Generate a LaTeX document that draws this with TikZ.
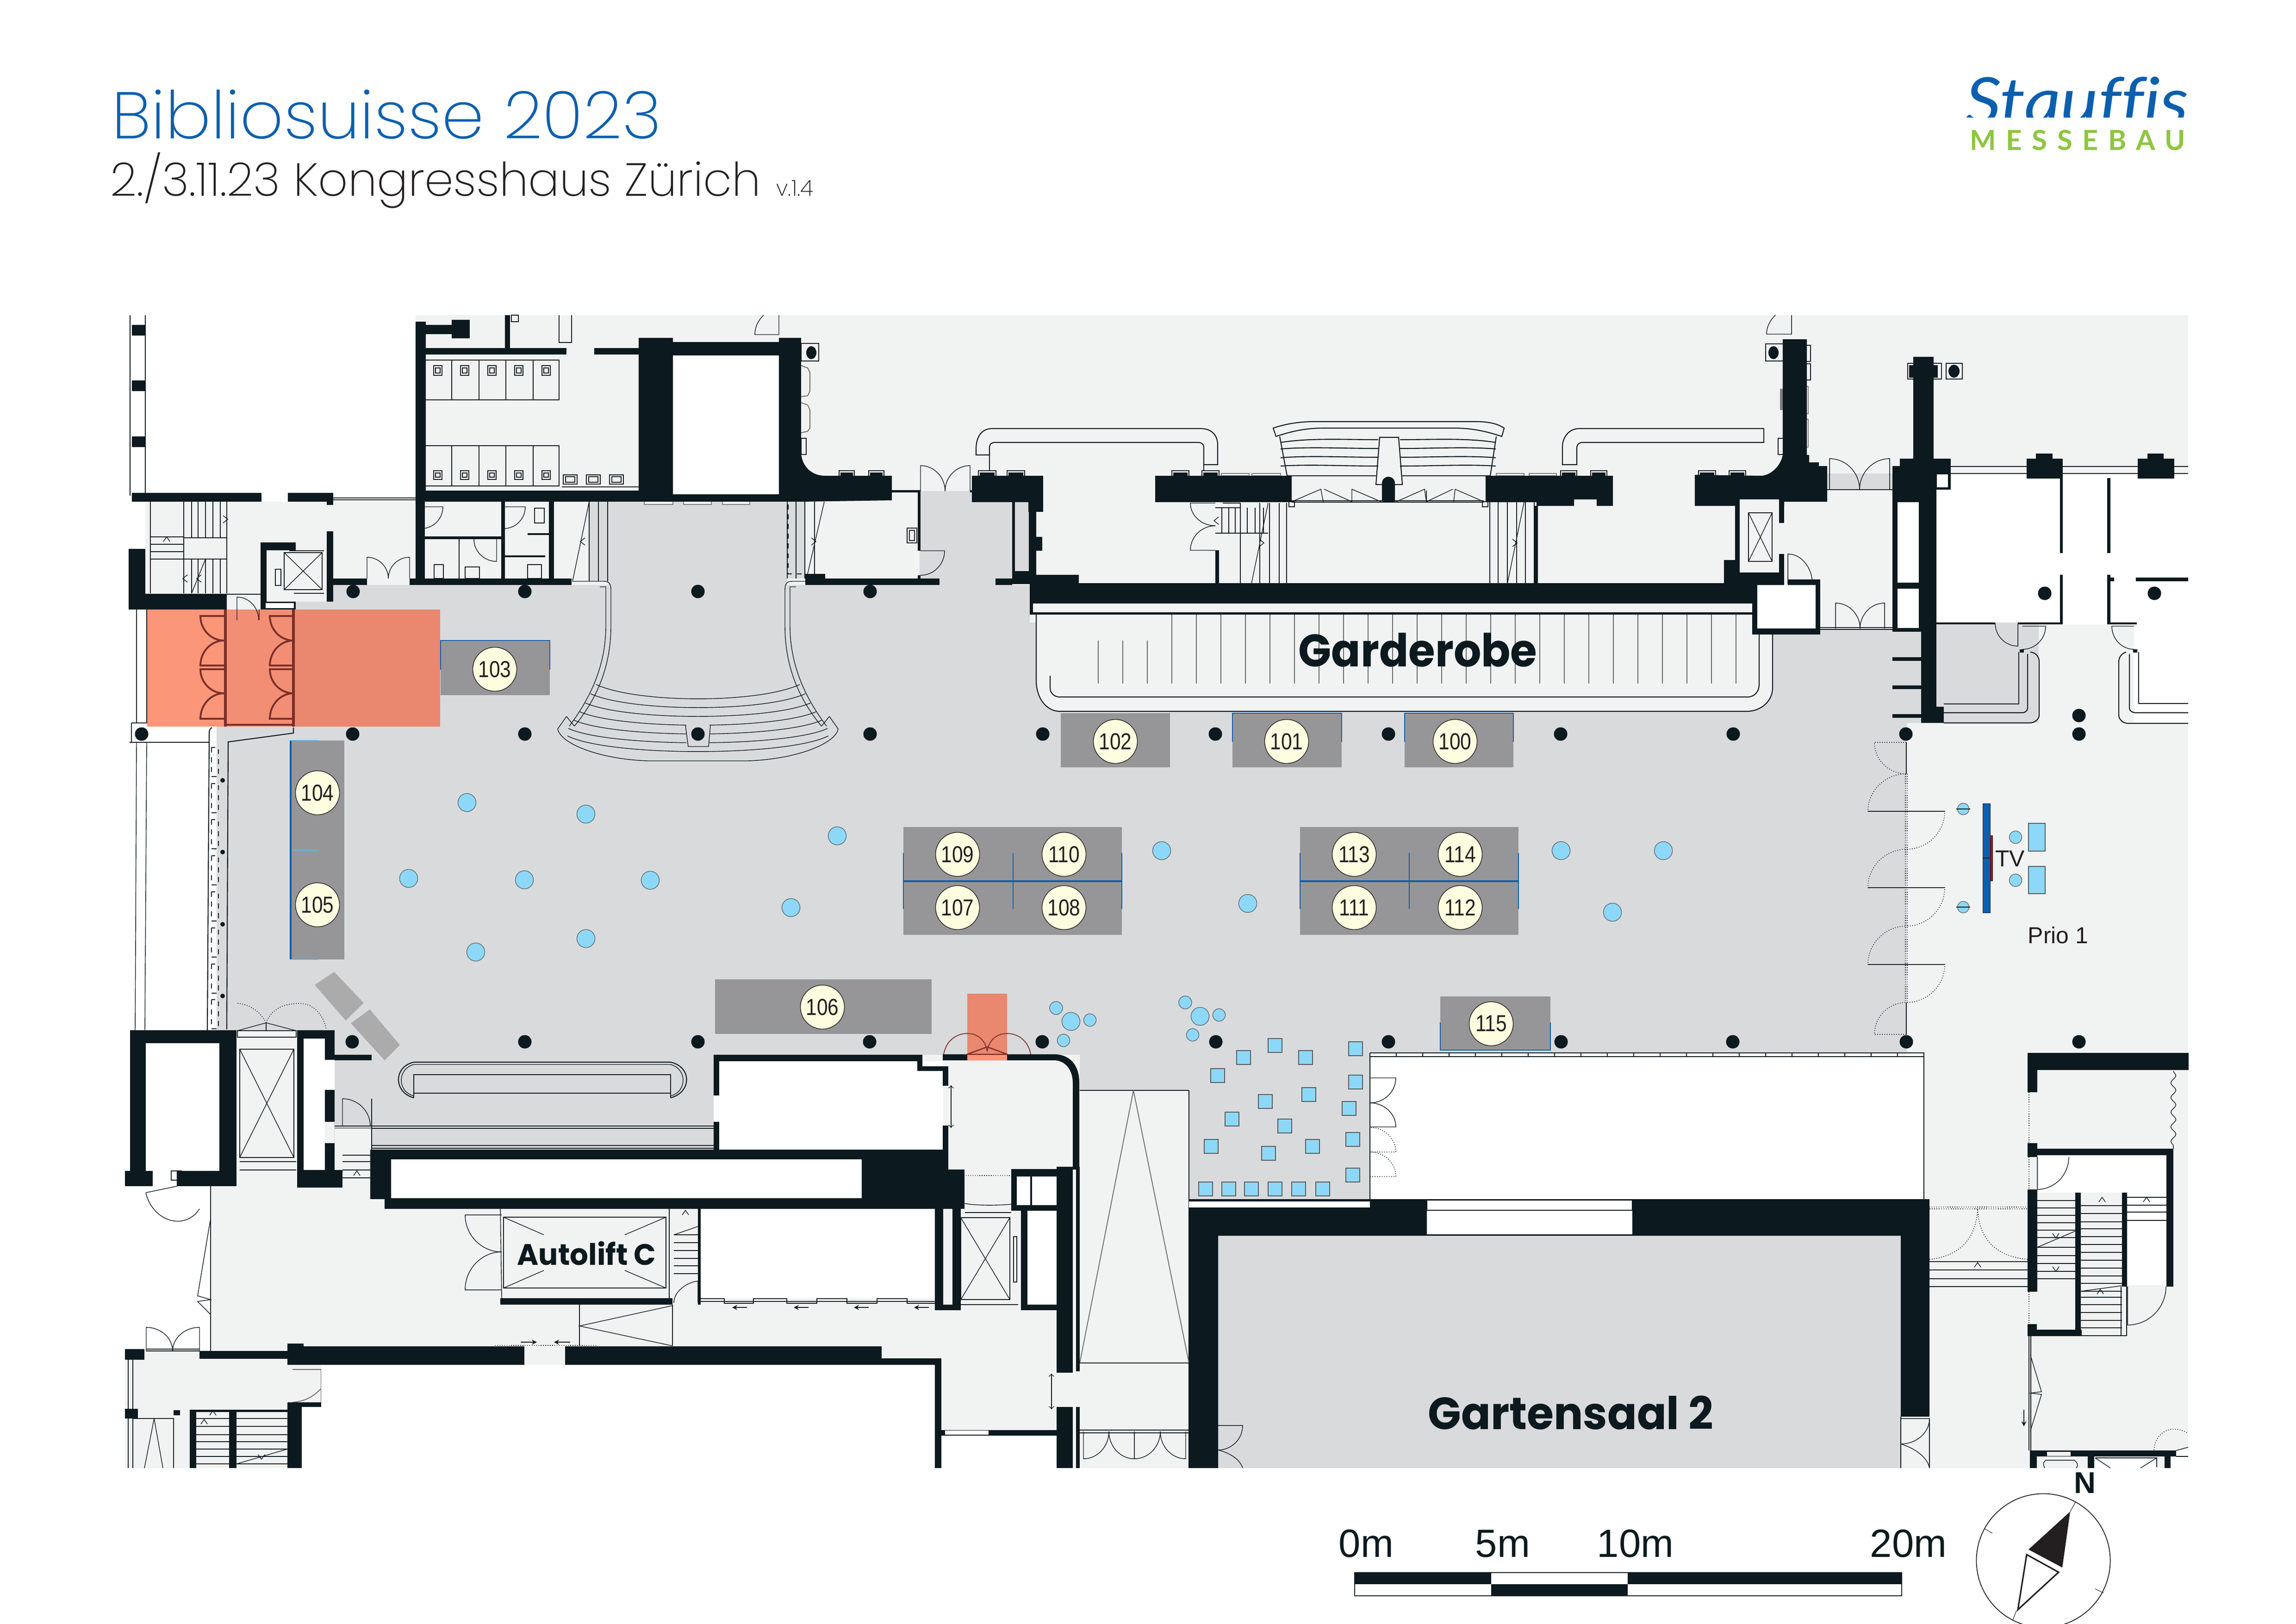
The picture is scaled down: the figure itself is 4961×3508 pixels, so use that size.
\documentclass[tikz,border=0pt]{standalone}
\usepackage{fontspec}
\usetikzlibrary{calc,decorations.pathmorphing}
\setmainfont{Liberation Sans}
\newfontfamily\lightfont{Poppins ExtraLight}
\newfontfamily\heavyfont{Poppins}
\newfontfamily\logoa{Lato}[Ligatures=NoCommon]
\newfontfamily\logob{Lato}[LetterSpace=36]
\definecolor{wallc}{HTML}{0C1A1F}
\definecolor{lgc}{HTML}{F1F2F2}
\definecolor{mgc}{HTML}{D9DADC}
\definecolor{standc}{HTML}{969698}
\definecolor{numc}{HTML}{FFFDDF}
\definecolor{skyc}{HTML}{8DD8F8}
\definecolor{barc}{HTML}{0B5FAF}
\definecolor{redA}{HTML}{FB9679}
\definecolor{redB}{HTML}{F28E74}
\definecolor{redC}{HTML}{E9876F}
\definecolor{redD}{HTML}{7A2E28}
\definecolor{logog}{HTML}{8DC63F}
\definecolor{inkc}{HTML}{231F20}
\tikzset{
  x=0.01cm,y=-0.01cm,
  tl/.style={draw=wallc,line width=.6pt},
  fl/.style={draw=wallc,line width=.4pt},
  gl/.style={draw=black!60,line width=.5pt},
  dl/.style={draw=wallc,line width=.45pt,densely dotted},
  rl/.style={draw=redD,line width=1.1pt},
  tabs/.style={draw=gray,fill=lgc,line width=.6pt},
  pil/.style={draw=wallc,fill=lgc,line width=.6pt},
  numn/.style={circle,draw=inkc,line width=.4pt,fill=numc,minimum size=.95cm,inner sep=0pt,font=\fontsize{14.2}{14.2}\selectfont,text=inkc},
  skyd/.style={circle,draw=wallc!70,line width=.35pt,fill=skyc,inner sep=0pt},
  skys/.style={draw=gray!70!black,line width=.35pt,fill=skyc},
  colm/.style={circle,fill=wallc,inner sep=0pt,minimum size=.29cm},
  bolds/.style={text=wallc,inner sep=0pt,anchor=base west},
}
\newcommand\wl[4]{\fill[wallc] (#1,#2) rectangle (#3,#4);}
\newcommand\wht[4]{\fill[white] (#1,#2) rectangle (#3,#4);}
\newcommand\mgy[4]{\fill[mgc] (#1,#2) rectangle (#3,#4);}
\newcommand\lgy[4]{\fill[lgc] (#1,#2) rectangle (#3,#4);}
\newcommand\stnd[4]{\fill[standc] (#1,#2) rectangle (#3,#4);}
\newcommand\drd[3]{\draw[fl] (#1) -- (#2) .. controls ($(#2)+.55*(#3)-.55*(#1)$) and ($(#3)+.55*(#2)-.55*(#1)$) .. (#3);}
\newcommand\drdd[3]{\draw[dl] (#1) -- (#2) .. controls ($(#2)+.55*(#3)-.55*(#1)$) and ($(#3)+.55*(#2)-.55*(#1)$) .. (#3);}
\newcommand\drr[3]{\draw[rl] (#1) -- (#2) .. controls ($(#2)+.55*(#3)-.55*(#1)$) and ($(#3)+.55*(#2)-.55*(#1)$) .. (#3);}
\newcommand\numb[4]{\node[numn] (#1) at (#2,#3) {\scalebox{.85}[1]{#4}};}
\newcommand\mku[2]{\draw[fl] (#1-7,#2+5) -- (#1,#2-5) -- (#1+7,#2+5);}
\newcommand\mkd[2]{\draw[fl] (#1-7,#2-5) -- (#1,#2+5) -- (#1+7,#2-5);}
\newcommand\mkr[2]{\draw[fl] (#1-5,#2-8) -- (#1+5,#2) -- (#1-5,#2+8);}
\newcommand\mkl[2]{\draw[fl] (#1+5,#2-8) -- (#1-5,#2) -- (#1+5,#2+8);}
\begin{document}
\begin{tikzpicture}
\useasboundingbox (0,0) rectangle (4961,3508);
% --- floors
\fill[lgc] (314,1084) -- (898,1084) -- (898,681) -- (4728,681) -- (4728,3172) -- (270,3172) -- (270,2915) -- (455,2915) -- (455,2530) -- (511,2226) -- (700,2226) -- (700,1317) -- (314,1317) -- cycle;
\fill[mgc] (639,1317) -- (639,1300) -- (720,1300) -- (720,1264) -- (1313,1264) -- (1313,1084) -- (1701,1084) -- (1701,1264) -- (1987,1264) -- (1987,1061) -- (2187,1061) -- (2187,1264) -- (2225,1264) -- (2225,1345) -- (3830,1345) -- (3830,1371) -- (3933,1371) -- (3933,1358) -- (4089,1358) -- (4089,1365) -- (4151,1365) -- (4151,1562) -- (4120,1562) -- (4120,2275) -- (2960,2275) -- (2960,2591) -- (2569,2591) -- (2569,2356) -- (2333,2356) -- (2333,2279) -- (1542,2279) -- (1542,2484) -- (722,2484) -- (722,2226) -- (468,2226) -- (468,1570) -- (639,1570) -- cycle;
\mgy{2193}{1085}{2223}{1234}
\mgy{3948}{1023}{4089}{1058}
\mgy{4184}{1345}{4405}{1562}
\mgy{1273}{1084}{1313}{1256}
\mgy{1701}{1084}{1739}{1250}
\mgy{2632}{2670}{4107}{3172}
\lgy{2239}{1326}{3830}{1537}
% --- white rooms
\wht{4184}{1026}{4728}{1345}
\wht{4611}{1345}{4728}{1562}
\wht{4457}{1345}{4553}{1349}
\wht{2960}{2275}{4157}{2591}
% --- counter outline
\fill[lgc] (2239,1326) -- (2239,1470) .. controls (2239,1510) and (2262,1537) .. (2290,1537) -- (3774,1537) .. controls (3805,1537) and (3830,1515) .. (3830,1486) -- (3830,1371) -- (3786,1328) -- cycle;
\fill[mgc] (2225,1480) -- (2239,1480) .. controls (2240,1515) and (2262,1537) .. (2290,1537) -- (2225,1560) -- cycle;
\fill[mgc] (3830,1486) .. controls (3830,1515) and (3805,1537) .. (3774,1537) -- (3830,1560) -- cycle;
\draw[tl] (2239,1328) -- (2239,1470) .. controls (2239,1510) and (2262,1537) .. (2290,1537) -- (3774,1537) .. controls (3805,1537) and (3830,1515) .. (3830,1486) -- (3830,1371);
\draw[tl] (2269,1460) -- (2269,1486) .. controls (2269,1498) and (2278,1506) .. (2290,1506) -- (3776,1506) .. controls (3790,1506) and (3801,1495) .. (3801,1479) -- (3801,1371);
\foreach \k in {0,...,2}{\draw[gl] ({2373+53*\k},1384) -- ({2373+53*\k},1477);}
\foreach \k in {3,...,26}{\draw[gl] ({2373+53*\k},1328) -- ({2373+53*\k},1477);}
\lgy{2225}{1304}{3786}{1323}
% --- red zones
\fill[redA] (318,1317) rectangle (487,1570);
\fill[redB] (487,1317) rectangle (634,1570);
\fill[redC] (634,1317) rectangle (951,1570);
\fill[redC] (2090,2147) rectangle (2176,2278);
\fill[redA] (2090,2278) rectangle (2176,2291);
% --- left facade
\foreach \a in {281,314}{\draw[tl] (\a,681) -- (\a,1071);}
\draw[fl] (295,1604) -- (292,2230);
\draw[fl] (317,1604) -- (313,2230);
\draw[fl] (295,1317) -- (295,1562);
\draw[fl] (317,1317) -- (317,1562);
\draw[fl] (284,1562) -- (318,1562);
\draw[fl] (284,1562) -- (284,1604);
\draw[tl] (280,1604) -- (452,1604);
\draw[tl] (458,1572) .. controls (452,1575) and (452,1580) .. (452,1590) -- (448,2226);
\fill[white] (455,1575) rectangle (468,2226);
\foreach \y in {1615,1693,1771,1849,1927,2005,2083,2160}{\draw[draw=wallc,line width=.5pt,dashed] (457,\y) rectangle (472,{\y+63});}
\foreach \y in {1686,1841,1997,2152}{\node[circle,fill=wallc,minimum size=.1cm,inner sep=0pt] (c\y) at (481,\y) {};}
\draw[tl] (634,1572) -- (634,1584) -- (493,1603) -- (490,2224);
% --- top left toilets
\draw[tl] (920,778) -- (1208,778) -- (1208,864) -- (920,864);
\draw[tl] (920,963) -- (1208,963) -- (1208,1050) -- (920,1050);
\draw[tl] (920,1061) -- (1382,1061);
\foreach \x in {976,1035,1093,1152}{\draw[fl] (\x,778) -- (\x,864);\draw[fl] (\x,963) -- (\x,1050);}
\foreach \x in {946,1004,1063,1121,1180}{
  \draw[fl] (\x-9,790) rectangle (\x+9,811); \draw[fl] (\x-5,795) rectangle (\x+5,806);
  \draw[fl] (\x-9,1017) rectangle (\x+9,1036); \draw[fl] (\x-5,1022) rectangle (\x+5,1031);}
\foreach \x in {1232,1282,1332}{\draw[fl] (\x-15,1026) rectangle (\x+15,1046); \draw[fl] (\x-10,1030) rectangle (\x+10,1042);}
\draw[tl] (1214,1052) -- (1382,1052);
\draw[tl] (1208,681) -- (1208,740) -- (1235,740) -- (1235,681);
\wl{1091}{681}{1102}{752}
\draw[fl] (1105,681) rectangle (1120,695);
% --- stair top-left
\foreach \x in {325,397,414,428,444,460,476,490}{\draw[fl] (\x,1084) -- (\x,1282);}
\foreach \y in {1160,1176,1192,1208}{\draw[fl] (325,\y) -- (397,\y);}
\draw[tl,fill=lgc] (397,1162) rectangle (490,1208);
\draw[fl] (444,1208) -- (414,1282);
\mku{360}{1165}\mkr{487}{1122}\mkl{400}{1250}\mkl{430}{1250}
\draw[fl] (720,1076) -- (898,1076);\draw[fl] (720,1080) -- (898,1080);
\draw[fl] (595,1230) rectangle (607,1265);
\draw[tl] (614,1194) rectangle (696,1274);
\draw[fl] (614,1194) -- (696,1274);\draw[fl] (696,1194) -- (614,1274);
\draw[fl] (625,1190) -- (700,1190);
\draw[fl] (635,1282) -- (700,1282);
\draw[fl] (490,1284) -- (563,1284);
% --- toilets lower
\drd{911,1095}{957,1095}{911,1142}
\drd{1089,1095}{1135,1095}{1089,1142}
\drd{1073,1165}{1073,1213}{1024,1165}
\draw[fl] (992,1165) -- (992,1250);
\draw[fl] (938,1220) rectangle (958,1250);
\draw[fl] (1005,1225) rectangle (1036,1250);
\draw[fl] (1140,1220) rectangle (1170,1250);
\draw[fl] (1155,1098) rectangle (1176,1130);
\drd{793,1250}{793,1204}{839,1250}
\drd{885,1250}{885,1204}{839,1250}
\lgy{793}{1250}{885}{1264}
\drd{512,1340}{512,1290}{559,1340}
% --- main stairs
\foreach \x in {1273,1293,1313}{\draw[fl] (\x,1084) -- (\x,1256);}
\draw[fl] (1273,1084) -- (1237,1256);
\foreach \x in {1701,1720,1739,1760}{\draw[fl] (\x,1084) -- (\x,1250);}
\draw[fl] (1781,1084) -- (1745,1240);
\draw[draw=wallc,line width=.4pt,dashed] (1703,1090) -- (1703,1240) -- (1740,1240);
\mkl{1259}{1170}\mkr{1758}{1170}
% --- grand rail
\draw[fl] (1237,1256) -- (1305,1256) .. controls (1316,1256) and (1320,1262) .. (1320,1274) -- (1320,1352) .. controls (1320,1440) and (1290,1510) .. (1241,1569);
\draw[fl] (1296,1268) -- (1309,1268) -- (1309,1352) .. controls (1309,1430) and (1282,1500) .. (1230,1569);
\draw[fl] (1779,1256) -- (1711,1256) .. controls (1700,1256) and (1696,1262) .. (1696,1274) -- (1696,1352) .. controls (1696,1440) and (1726,1510) .. (1775,1569);
\draw[fl] (1720,1268) -- (1707,1268) -- (1707,1352) .. controls (1707,1430) and (1734,1500) .. (1786,1569);
\draw[fl] (1224,1548) -- (1205,1575) .. controls (1210,1605) and (1290,1640) .. (1400,1644) -- (1616,1644) .. controls (1726,1640) and (1806,1605) .. (1811,1575) -- (1792,1548);
\draw[fl] (1224,1548) -- (1241,1569);\draw[fl] (1792,1548) -- (1775,1569);
\foreach \xl/\yl/\yc in {1288/1479/1510,1276/1499/1529,1265/1519/1548,1253/1538/1567,1240/1556/1586,1228/1574/1605,1226/1590/1624}{
  \draw[fl] (\xl,\yl) .. controls ({\xl+90},{\yl+(\yc-\yl)*1.33}) and ({3016-\xl-90},{\yl+(\yc-\yl)*1.33}) .. ({3016-\xl},\yl);}
\fill[mgc] (1483,1560) rectangle (1533,1608);
\draw[fl] (1481,1567) -- (1487,1613) -- (1531,1613) -- (1535,1567);
% --- top centre
\draw[tl] (2109,983) -- (2109,970) .. controls (2109,945) and (2120,926) .. (2144,926) -- (2594,926) .. controls (2618,926) and (2631,940) .. (2631,962) -- (2631,1004) -- (2601,1004) -- (2601,966) .. controls (2601,960) and (2597,956) .. (2588,956) -- (2150,956) .. controls (2142,956) and (2138,960) .. (2138,966) -- (2138,983) -- cycle;
\draw[fl] (2138,983) -- (2138,1017);\draw[fl] (2601,1004) -- (2601,1017);
\draw[tl] (3376,1004) -- (3376,965) .. controls (3376,945) and (3390,926) .. (3412,926) -- (3811,926) -- (3811,956) -- (3420,956) .. controls (3412,956) and (3407,960) .. (3407,968) -- (3407,1004) -- cycle;
\draw[tl] (2751,925) .. controls (2780,915) and (2810,911) .. (2840,911) -- (3190,911) .. controls (3215,911) and (3235,915) .. (3250,925) -- (3245,943) .. controls (3200,928) and (3170,925) .. (3140,925) -- (2860,925) .. controls (2820,925) and (2790,932) .. (2757,943) -- cycle;
\draw[tl] (2765,943) -- (2781,1028);\draw[tl] (3233,943) -- (3220,1028);
\draw[tl] (2781,1028) -- (2973,1028);\draw[tl] (3030,1028) -- (3220,1028);
\foreach \ya/\yb in {950/956,969/970,988/989,1007/1007}{
  \draw[tl] (2767,\yb) .. controls (2830,\ya-4) and (2900,\ya) .. (2978,\ya);
  \draw[tl] (3025,\ya) .. controls (3100,\ya) and (3170,\ya-4) .. (3232,\yb);}
\draw[tl] (2981,945) -- (3022,945) -- (3030,1047) -- (2973,1047) -- cycle;
\fill[lgc] (2980,1030) rectangle (3025,1046);
\draw[tl] (2791,1085) -- (3206,1085); \draw[fl] (2791,1082) -- (3206,1082);
\draw[fl] (2791,1084) -- (2854,1057) -- (2859,1084);
\draw[fl] (2861,1057) -- (2921,1084) -- (2921,1057) -- (2984,1084);
\draw[fl] (3017,1084) -- (3078,1057) -- (3082,1084) -- (3082,1060);
\draw[fl] (3144,1057) -- (3206,1084);\draw[fl] (3139,1057) -- (3082,1084);\draw[fl] (3141,1084) -- (3144,1057);
\draw[fl] (2785,1084) rectangle (2797,1095);\draw[fl] (3203,1084) rectangle (3215,1095);
% stairs under
\foreach \x in {2680,2722,2743,2764,2780}{\draw[fl] (\x,1087) -- (\x,1261);}
\draw[fl] (2740,1087) -- (2704,1261);
\foreach \x in {2640,2655,2669,2695,2712,2730}{\draw[fl] (\x,1097) -- (\x,1152);}
\draw[fl] (2626,1097) -- (2680,1097);\draw[fl] (2626,1152) -- (2740,1152);
\draw[tl] (2642,1087) -- (2680,1087);
\mkl{2628}{1125}\mkr{2726}{1173}\mkr{3273}{1173}
\drd{2626,1087}{2572,1087}{2626,1136}
\drd{2626,1189}{2572,1189}{2626,1136}
\foreach \x in {3219,3237,3257,3277,3296,3315}{\draw[fl] (\x,1085) -- (\x,1261);}
\draw[fl] (3293,1085) -- (3257,1261);
\draw[fl] (1960,1141) rectangle (1981,1173);\draw[fl] (1965,1146) rectangle (1976,1168);
\drd{1989,1061}{1989,1006}{2042,1061}
\drd{2096,1061}{2096,1006}{2042,1061}
\drd{1989,1190}{2041,1190}{1989,1243}
% small doors top
\draw[fl] (1683,681) -- (1683,723) -- (1631,723) .. controls (1631,705) and (1640,690) .. (1650,681);
\draw[fl] (3871,681) -- (3871,722) -- (3817,722) .. controls (3817,705) and (3826,690) .. (3836,681);
% pilasters
\foreach \x/\w in {1813/33,1877/33,2114/38,2176/38,2532/37,2597/37,3372/35,3437/35,3670/37,3736/36}{
  \draw[pil] (\x,1017) rectangle ({\x+\w},1030);\fill[wallc] ({\x+3},1021) rectangle ({\x+\w-3},1030);}
\foreach \a/\b in {1392/1454,1477/1537,1561/1620}{\draw[tabs] (\a,1083) rectangle (\b,1090);}
\foreach \a/\b in {2639/2699,2705/2767,3233/3293,3304/3363}{\draw[tabs] (\a,1023) rectangle (\b,1028);}
\draw[pil] (1731,742) rectangle (1769,780);\fill[wallc] (1753,762) ellipse[x radius=11,y radius=14];
\draw[gl] (1731,790) -- (1745,795) -- (1750,805) -- (1750,845) -- (1745,855) -- (1731,857);
\draw[gl] (1731,870) -- (1745,875) -- (1750,885) -- (1750,925) -- (1745,932) -- (1731,935);
\draw[pil] (1731,947) rectangle (1742,982);
\draw[pil] (3815,743) rectangle (3860,780);\fill[wallc] (3832,762) ellipse[x radius=11,y radius=14];
\draw[pil] (3900,746) rectangle (3912,781);\draw[pil] (3900,786) rectangle (3912,821);
\draw[tabs] (3900,835) rectangle (3907,894);\draw[tabs] (3900,906) rectangle (3907,966);
\fill[gray] (3846,840) rectangle (3852,886);
\draw[pil] (3842,947) rectangle (3855,982);
\draw[pil] (4122,785) rectangle (4195,819);
\draw[pil] (4205,785) rectangle (4240,819);\fill[wallc] (4222,802) ellipse[x radius=12,y radius=14];
% right top
\drd{3953,1058}{3953,991}{4018,1058}
\drd{4083,1058}{4083,991}{4018,1058}
\draw[tl] (3948,1058) -- (4089,1058);
\drd{3966,1358}{3966,1303}{4019,1358}
\drd{4072,1358}{4072,1303}{4019,1358}
\draw[fl] (3930,1356) -- (4089,1356);\draw[fl] (3930,1360) -- (4089,1360);
\drd{3863,1262}{3863,1197}{3916,1262}
\draw[tl] (4215,1008) -- (4728,1008);\draw[tl] (4215,1023) -- (4728,1023);
\drd{4360,1347}{4360,1396}{4311,1347}
\drd{4370,1353}{4420,1353}{4370,1403}
\drd{4611,1353}{4563,1353}{4611,1403}
\draw[tl] (4362,1409) -- (4362,1521) -- (4200,1521);
\draw[tl] (4381,1413) -- (4381,1530) .. controls (4381,1536) and (4375,1540) .. (4370,1540) -- (4200,1540);
\draw[tl] (4387,1409) .. controls (4400,1410) and (4406,1420) .. (4406,1430) -- (4406,1545) .. controls (4406,1555) and (4395,1562) .. (4385,1562) -- (4200,1562);
\draw[tl] (4621,1409) -- (4621,1520) -- (4728,1520);
\draw[tl] (4601,1413) -- (4601,1530) .. controls (4601,1536) and (4607,1540) .. (4615,1540) -- (4728,1540);
\draw[tl] (4594,1409) .. controls (4584,1412) and (4578,1420) .. (4578,1430) -- (4578,1545) .. controls (4578,1555) and (4588,1563) .. (4598,1563) -- (4728,1563);
\wl{4364}{1403}{4373}{1410}\wl{4609}{1403}{4618}{1410}
% --- hall lower detail
\draw[tl] (894,2372) .. controls (850,2360) and (850,2305) .. (894,2295) -- (1449,2295) .. controls (1495,2305) and (1495,2360) .. (1449,2372);
\draw[fl] (894,2368) .. controls (858,2358) and (858,2310) .. (894,2300) -- (1449,2300) .. controls (1485,2310) and (1485,2358) .. (1449,2368);
\draw[tl] (894,2372) -- (894,2322) -- (1449,2322) -- (1449,2372);
\draw[tl] (894,2362) -- (1449,2362);
\draw[fl] (723,2433) -- (1542,2433);\draw[fl] (723,2438) -- (1542,2438);
\draw[fl] (803,2475) -- (1542,2475);\draw[fl] (803,2481) -- (1542,2481);
\lgy{723}{2438}{803}{2484}
\drd{740,2433}{740,2374}{800,2433}
\draw[fl] (803,2374) -- (803,2484);
\lgy{740}{2484}{800}{2563}
\foreach \y in {2496,2510,2528,2545}{\draw[fl] (740,\y) -- (800,\y);}
\mku{771}{2535}
\draw[fl] (513,2227) rectangle (640,2241);
\draw[fl] (518,2267) rectangle (635,2501);
\draw[fl] (518,2267) -- (635,2501);\draw[fl] (635,2267) -- (518,2501);
\draw[fl] (497,2340) rectangle (510,2430);
\draw[fl] (513,2227) -- (575,2210) -- (640,2227);
\draw[fl] (575,2210) -- (575,2227);
\draw[dl] (575,2210) .. controls (560,2180) and (530,2168) .. (512,2168);
\draw[dl] (575,2210) .. controls (590,2170) and (630,2168) .. (650,2168) .. controls (680,2170) and (700,2195) .. (705,2225);
\draw[fl] (518,2510) -- (640,2510);\draw[fl] (518,2528) -- (640,2528);
\draw[fl] (1081,2611) -- (1084,2805);
\lgy{1119}{2680}{1414}{2745}
% autolift
\draw[fl] (1088,2630) rectangle (1439,2783);
\foreach \a/\b/\c/\d in {1088/2630/1175/2668,1439/2630/1350/2668,1088/2783/1175/2745,1439/2783/1350/2745}{\draw[fl] (\a,\b) -- (\c,\d);}
\drd{1084,2625}{1005,2625}{1084,2705}
\drd{1084,2787}{1005,2787}{1084,2705}
\draw[fl] (1446,2611) -- (1446,2805);
\draw[fl] (1084,2611) -- (1446,2611);
\foreach \y in {2668,2685,2702,2719,2735,2752}{\draw[tl] (1456,\y) -- (1508,\y);}
\draw[fl] (1456,2668) -- (1508,2650);
\mku{1481}{2620}
\draw[fl] (1456,2815) .. controls (1456,2790) and (1485,2770) .. (1508,2768) -- (1508,2815);
\draw[fl] (1514,2806) -- (1565,2806) -- (1565,2816) -- (1628,2816) -- (1628,2806) -- (1700,2806) -- (1700,2816) -- (1765,2816) -- (1765,2806) -- (1830,2806) -- (1830,2816) -- (1895,2816) -- (1895,2806) -- (1960,2806) -- (1960,2816) -- (2020,2816);
\draw[fl] (1514,2812) -- (2020,2812);
\foreach \x in {1582,1715,1845,1975}{\draw[fl,-stealth] ({\x+32},2825) -- (\x,2825);}
\draw[fl] (1453,2821) -- (1252,2865) -- (1453,2908);
\draw[fl] (1252,2819) -- (1252,2908);
\draw[fl] (1453,2819) -- (1453,2908);
\draw[fl,densely dotted] (1070,2907) -- (1287,2907);
\draw[fl,-stealth] (1125,2900) -- (1160,2900);
\draw[fl,-stealth] (1232,2900) -- (1197,2900);
% lift right
\draw[fl] (2076,2631) rectangle (2182,2808);
\draw[fl] (2076,2631) -- (2182,2808);\draw[fl] (2182,2631) -- (2076,2808);
\draw[fl] (2190,2672) rectangle (2197,2770);
\draw[fl] (2085,2620) -- (2185,2620);
\draw[fl] (2082,2600) .. controls (2110,2605) and (2150,2605) .. (2185,2602);
\draw[fl,densely dotted] (2082,2540) -- (2185,2540);
\draw[fl,<->] (2055,2345) -- (2055,2437);
\draw[fl,<->] (2272,2968) -- (2272,3045);
\draw[fl] (2076,2819) -- (2200,2819);
% left bottom
\draw[fl] (315,2577) -- (382,2563);
\draw[fl] (315,2577) .. controls (330,2640) and (400,2660) .. (431,2612);
\draw[fl] (455,2560) -- (455,2919);
\draw[fl] (455,2633) -- (427,2800) -- (455,2808) -- (427,2812) -- (455,2840);
\drd{316,2919}{316,2868}{373,2919}
\drd{431,2919}{431,2868}{373,2919}
\draw[fl] (316,2919) -- (431,2919);\draw[fl] (316,2915) -- (431,2915);
\draw[fl] (277,2938) -- (277,3172);\draw[fl] (287,2938) -- (287,3172);
\draw[fl] (287,3065) -- (375,3065) -- (375,3172);
\draw[fl] (333,3065) -- (312,3172);\draw[fl] (333,3065) -- (352,3172);
\foreach \y in {3065,3082,3100,3115,3131,3147,3163}{\draw[tl] (424,\y) -- (621,\y);}
\draw[fl] (511,3163) -- (621,3131);
\mku{460}{3053}\mku{441}{3072}\mkd{565}{3148}
\draw[gl] (632,2959) -- (694,2959) -- (694,3030);\draw[gl] (694,3000) .. controls (670,3025) and (650,3028) .. (632,3030);
\fill[white] (694,2949) rectangle (2020,3172);
\fill[white] (652,3040) rectangle (694,3172);
\fill[white] (1554,2293) rectangle (2038,2484);
\fill[white] (1542,2367) rectangle (1554,2424);
\fill[white] (1514,2611) rectangle (2020,2805);
\fill[white] (845,2505) rectangle (1862,2589);
\fill[white] (312,2254) rectangle (476,2528);
\fill[white] (656,2244) rectangle (702,2528);
\fill[white] (702,2290) rectangle (723,2355);
\fill[white] (2220,2616) rectangle (2283,2819);
\fill[white] (2197,2545) rectangle (2226,2602);\fill[white] (2230,2545) rectangle (2283,2602);
\fill[white] (2034,3102) rectangle (2283,3172);
\draw[fl] (370,2530) rectangle (392,2550);
\draw[fl] (300,2350) -- (300,2440);\draw[fl] (312,2350) -- (300,2350);\draw[fl] (312,2440) -- (300,2440);
% ramp
\draw[tl] (2333,2356) -- (2569,2356);
\draw[tl] (2569,2356) -- (2569,3172);
\draw[gl] (2449,2356) -- (2333,2945);\draw[gl] (2449,2356) -- (2569,2945);
\draw[fl] (2333,2945) -- (2569,2945);
\draw[fl] (2333,3090) -- (2569,3090);\draw[fl] (2333,3096) -- (2569,3096);
\drd{2341,3093}{2341,3152}{2396,3093}
\drd{2451,3093}{2451,3152}{2396,3093}
\drd{2451,3093}{2451,3152}{2507,3093}
\drd{2562,3093}{2562,3152}{2507,3093}
% tables room doors
\draw[tl] (2960,2275) -- (4157,2275) -- (4157,2591);
\draw[fl] (2960,2283) -- (4157,2283);
\foreach \k in {1,...,21}{\draw[fl] ({2960+57*\k},2275) -- ({2960+57*\k},2283);}
\draw[tl] (2960,2275) -- (2960,2591);
\drd{2960,2329}{3016,2329}{2960,2383}
\drd{2960,2435}{3016,2435}{2960,2383}
\drdd{2960,2489}{3016,2489}{2960,2436}
\drdd{2960,2542}{3016,2542}{2960,2489}
% --- walls
\wl{285}{702}{314}{725}\wl{285}{822}{314}{845}\wl{285}{943}{314}{966}
\wl{285}{1065}{565}{1084}\wl{622}{1065}{720}{1084}\wl{706}{1084}{720}{1091}
\wl{898}{695}{920}{1084}\wl{920}{702}{976}{722}\wl{976}{691}{1015}{731}
\wl{920}{752}{1224}{766}\wl{1284}{752}{1382}{766}
\wl{1380}{730}{1454}{1084}\wl{1452}{739}{1683}{768}\wl{1683}{730}{1731}{1084}
\wl{1382}{1068}{1731}{1084}\wl{920}{1061}{1382}{1084}
\fill[white] (1454,768) rectangle (1683,1068);
\fill[wallc] (1731,982) .. controls (1735,1010) and (1755,1028) .. (1783,1028) -- (1927,1028) -- (1927,1081) -- (1731,1084) -- cycle;
\wl{1927}{1059}{1989}{1064}
\wl{278}{1186}{314}{1317}\wl{287}{1283}{490}{1317}
\wl{563}{1172}{639}{1189}\wl{563}{1172}{576}{1317}\wl{563}{1300}{639}{1317}
\fill[white] (574,1303) rectangle (635,1314);
\wl{706}{1148}{720}{1300}
\wl{720}{1250}{793}{1264}\wl{885}{1250}{1235}{1264}
\wl{898}{1084}{918}{1250}
\wl{1083}{1084}{1091}{1250}\wl{1186}{1084}{1197}{1250}
\wl{911}{1159}{1083}{1165}\wl{1091}{1200}{1178}{1204}\wl{1140}{1152}{1197}{1156}
\wl{1740}{1240}{1783}{1264}\wl{1783}{1250}{1900}{1264}\wl{1900}{1250}{2030}{1264}
\wl{1983}{1061}{1989}{1190}\wl{1983}{1243}{1989}{1252}
\wl{1900}{1028}{1927}{1081}
\wl{2100}{1028}{2254}{1085}\wl{2222}{1085}{2254}{1106}
\wl{2187}{1085}{2193}{1262}\wl{2223}{1085}{2239}{1262}\wl{2225}{1160}{2252}{1190}
\wl{2151}{1250}{2187}{1264}\wl{2187}{1234}{2239}{1262}\wl{2225}{1242}{2331}{1262}
\wl{2096}{1059}{2100}{1064}
\wl{2496}{1028}{2791}{1085}
\fill[wallc] (3210,1028) -- (3485,1028) -- (3485,1093) -- (3450,1093) -- (3450,1079) -- (3401,1079) -- (3401,1093) -- (3320,1093) -- (3320,1085) -- (3210,1085) -- cycle;
\wl{3315}{1093}{3323}{1262}
\wl{2626}{1189}{2634}{1262}
\fill[wallc] (2986,1084) -- (2986,1045) .. controls (2986,1025) and (3014,1025) .. (3014,1045) -- (3014,1084) -- cycle;
\wl{2225}{1260}{3786}{1304}\wl{2225}{1323}{3786}{1328}\wl{2225}{1264}{2232}{1328}
\wl{3786}{1260}{3797}{1371}\wl{3786}{1358}{3933}{1371}\wl{3923}{1252}{3933}{1371}\wl{3797}{1252}{3855}{1264}\wl{3863}{1252}{3933}{1264}
\fill[white] (3797,1264) rectangle (3923,1358);
\fill[wallc] (3662,1026) -- (3807,1028) .. controls (3832,1025) and (3850,1000) .. (3852,982) -- (3852,733) -- (3904,733) -- (3904,983) -- (3909,983) -- (3909,999) -- (3930,999) -- (3930,1007) -- (3948,1007) -- (3948,1084) -- (3855,1084) -- (3855,1093) -- (3662,1093) -- cycle;
\lgy{3759}{1079}{3844}{1237}
\wl{3749}{1079}{3759}{1237}\wl{3844}{1079}{3855}{1130}\wl{3844}{1197}{3855}{1237}
\wl{3725}{1210}{3759}{1260}\wl{3725}{1237}{3855}{1260}
\draw[fl] (3778,1108) rectangle (3829,1213);\draw[fl] (3778,1108) -- (3829,1213);\draw[fl] (3829,1108) -- (3778,1213);
\wl{4134}{771}{4178}{998}\wl{4089}{1007}{4184}{1365}\wl{4151}{1365}{4184}{1562}\wl{4184}{1527}{4200}{1562}
\wl{4105}{991}{4190}{1010}\wl{4184}{991}{4215}{1058}
\fill[white] (4100,1085) rectangle (4146,1259);\fill[white] (4100,1272) rectangle (4146,1357);
\fill[white] (4185,1025) rectangle (4209,1053);
\draw[tl,fill=wallc] (4126,790) rectangle (4186,815);
\wl{4089}{1420}{4151}{1428}\wl{4089}{1481}{4151}{1489}\wl{4089}{1543}{4151}{1551}
\wl{4379}{991}{4457}{1034}\wl{4399}{980}{4435}{991}
\wl{4619}{991}{4698}{1034}\wl{4640}{980}{4675}{991}
\wl{4451}{1033}{4457}{1195}\wl{4451}{1242}{4457}{1349}
\wl{4553}{1033}{4560}{1195}\wl{4553}{1242}{4560}{1349}
\wl{4184}{1345}{4311}{1349}\wl{4360}{1345}{4457}{1349}\wl{4553}{1345}{4617}{1349}
\wl{4615}{1248}{4728}{1256}\wl{4553}{1248}{4568}{1256}
% hall south walls
\wl{281}{2226}{511}{2254}\wl{281}{2226}{315}{2563}\wl{474}{2226}{511}{2549}\wl{382}{2530}{511}{2563}\wl{270}{2530}{330}{2563}
\wl{642}{2226}{722}{2244}\wl{642}{2226}{656}{2563}\wl{702}{2226}{723}{2290}\wl{702}{2355}{723}{2424}\wl{702}{2470}{723}{2566}\wl{642}{2528}{740}{2566}
\wl{723}{2279}{803}{2291}
\wl{803}{2484}{2038}{2505}\wl{800}{2484}{845}{2591}\wl{831}{2589}{2084}{2612}\wl{1862}{2484}{2049}{2612}\wl{2049}{2527}{2084}{2612}
\wl{1542}{2279}{1554}{2367}\wl{1542}{2424}{1554}{2484}
\wl{1542}{2279}{1993}{2293}
\wl{1982}{2304}{2038}{2314}\wl{2037}{2304}{2049}{2346}\wl{2037}{2432}{2049}{2484}\wl{1982}{2293}{1993}{2314}
\fill[wallc] (2037,2278) -- (2278,2278) .. controls (2310,2278) and (2332,2300) .. (2332,2339) -- (2332,2527) -- (2318,2527) -- (2318,2340) .. controls (2318,2310) and (2300,2291) .. (2278,2291) -- (2037,2291) -- cycle;
\fill[redA] (2090,2278) rectangle (2176,2291);
\wl{2185}{2526}{2283}{2542}\wl{2185}{2604}{2283}{2616}\wl{2226}{2542}{2230}{2604}\wl{2185}{2526}{2197}{2616}
\wl{2283}{2521}{2318}{2966}\wl{2325}{2521}{2333}{2963}
\wl{2020}{2612}{2038}{2831}\wl{2058}{2612}{2076}{2831}\wl{2020}{2819}{2076}{2831}
\wl{2206}{2616}{2220}{2831}\wl{2206}{2819}{2283}{2831}
\wl{1081}{2805}{1453}{2819}\wl{1508}{2611}{1514}{2819}
\wl{431}{2919}{621}{2936}\wl{621}{2903}{656}{2949}\wl{656}{2909}{1133}{2949}\wl{1221}{2909}{1905}{2949}\wl{1905}{2935}{2031}{2949}
\wl{270}{2915}{312}{2938}
\wl{2020}{2935}{2034}{3172}\wl{2031}{3090}{2283}{3102}
\fill[white] (2042,3091) rectangle (2136,3100);
\wl{2283}{3040}{2318}{3172}\wl{2325}{3040}{2333}{3172}
\wl{270}{3044}{298}{3065}\wl{375}{3047}{389}{3058}
\wl{621}{3030}{652}{3172}\wl{621}{3030}{694}{3040}
\wl{410}{3046}{424}{3172}\wl{495}{3046}{511}{3172}\wl{410}{3046}{621}{3051}
% gartensaal
\fill[wallc] (2569,2591) -- (4169,2591) -- (4169,3061) -- (4107,3061) -- (4107,2670) -- (2632,2670) -- (2632,3172) -- (2569,3172) -- cycle;
\fill[white] (2569,2596) rectangle (2960,2609);
\fill[white] (3083,2593) rectangle (3527,2667);
\draw[fl] (3083,2593) rectangle (3527,2615);
\lgy{4107}{3061}{4169}{3172}
\draw[fl] (4107,3061) -- (4107,3172);
\drd{4107,3065}{4169,3065}{4107,3120}
\draw[fl] (4107,3120) .. controls (4140,3130) and (4165,3150) .. (4169,3172);
\draw[fl] (4169,3065) -- (4169,3172);
\drd{2632,3080}{2685,3080}{2632,3133}
\draw[fl] (2632,3133) .. controls (2660,3140) and (2680,3155) .. (2685,3172);
% north wing right
\wl{4381}{2275}{4729}{2312}\wl{4381}{2275}{4402}{2360}
\wl{4381}{2470}{4402}{2500}\wl{4381}{2482}{4696}{2496}\wl{4681}{2482}{4696}{2780}
\fill[white] (4402,2496) rectangle (4681,2577);\fill[white] (4596,2577) rectangle (4681,2777);
\draw[dl] (4384,2360) -- (4384,2470);\draw[dl] (4384,2500) -- (4384,2570);\draw[dl] (4384,2791) -- (4384,2861);
\draw[fl,decorate,decoration={snake,amplitude=1.5pt,segment length=9pt}] (4696,2314) -- (4696,2482);
\drd{4402,2500}{4402,2570}{4470,2500}
\wl{4381}{2570}{4402}{2791}
\wl{4484}{2577}{4496}{2886}\wl{4585}{2577}{4596}{2780}
\foreach \y in {2594,2610,2626,2642,2658,2674,2695,2713,2730,2747,2763}{\draw[tl] (4402,\y) -- (4484,\y);}
\draw[fl] (4402,2695) -- (4484,2660);
\foreach \y in {2605,2622,2640,2655,2672,2689,2706,2723,2740,2757,2773,2790,2803,2819,2836,2853,2869}{\draw[tl] (4496,\y) -- (4585,\y);}
\draw[fl] (4496,2790) -- (4585,2778);
\foreach \y in {2587,2604,2619,2637}{\draw[fl] (4596,\y) -- (4681,\y);}
\mku{4542}{2592}\mku{4638}{2592}\mku{4538}{2791}\mkd{4442}{2742}\mkd{4442}{2670}\mku{4273}{2733}
\draw[fl] (4583,2780) -- (4583,2886) -- (4496,2886);\draw[fl] (4595,2780) -- (4595,2886) -- (4583,2886);
\drd{4597,2780}{4597,2863}{4680,2780}
\draw[dl] (4169,2612) -- (4381,2612);
\draw[fl,densely dotted] (4169,2608) -- (4381,2608);
\draw[dl] (4169,2721) .. controls (4230,2715) and (4270,2680) .. (4273,2612);
\draw[dl] (4381,2721) .. controls (4315,2715) and (4276,2680) .. (4273,2612);
\foreach \y in {2726,2744,2763,2780}{\draw[fl] (4169,\y) -- (4381,\y);}
\wl{4381}{2861}{4401}{2887}\wl{4381}{2873}{4498}{2887}
\draw[fl] (4384,2887) -- (4384,3134);\draw[fl] (4388,2887) -- (4388,3134);
\draw[fl] (4387,2928) -- (4411,3007) -- (4388,3010) -- (4411,3013) -- (4387,3092);
\draw[fl,-stealth] (4373,3046) -- (4373,3082);
\wl{4386}{3134}{4702}{3147}
\lgy{4423}{3137}{4474}{3146}
\fill[white] (4527,3150) rectangle (4660,3172);
\fill[white] (4690,3147) rectangle (4728,3172);
\fill[white] (4702,3134) rectangle (4728,3147);
\wl{4386}{3147}{4401}{3172}\wl{4511}{3147}{4525}{3172}\wl{4677}{3147}{4690}{3172}
\draw[fl] (4527,3150) -- (4660,3150) -- (4660,3170);
\draw[fl] (4527,3150) -- (4560,3172);\draw[fl] (4660,3150) -- (4625,3172);
\draw[fl] (4702,3134) -- (4728,3127);\draw[fl] (4702,3147) -- (4728,3147);
\draw[fl] (4418,3172) .. controls (4412,3160) and (4418,3158) .. (4420,3155) -- (4482,3155) .. controls (4488,3160) and (4492,3165) .. (4486,3172);
\draw[dl] (4654,3133) .. controls (4656,3105) and (4675,3088) .. (4697,3088) .. controls (4710,3088) and (4720,3092) .. (4728,3097);
% door arcs at hall east
\drdd{4119,1604}{4050,1604}{4119,1672}
\drdd{4119,1753}{4036,1753}{4119,1672}
\drdd{4119,1753}{4202,1753}{4119,1835}
\drdd{4119,1918}{4036,1918}{4119,1835}
\drdd{4119,1918}{4202,1918}{4119,2001}
\drdd{4119,2084}{4036,2084}{4119,2001}
\drdd{4119,2084}{4202,2084}{4119,2166}
\drdd{4119,2235}{4050,2235}{4119,2166}
\draw[dl] (4117,1672) -- (4117,2166);\draw[dl] (4121,1672) -- (4121,2166);
\draw[draw=wallc,line width=.8pt] (4119,1604) -- (4119,1672);
\draw[draw=wallc,line width=.8pt] (4119,2166) -- (4119,2235);
\foreach \y in {1753,1918,2084}{\draw[draw=wallc,line width=.8pt] (4036,\y) -- (4202,\y);}
% double doors to red zone
\draw[redD,line width=.5pt] (2039,2278) .. controls (2045,2245) and (2070,2233) .. (2090,2233) .. controls (2115,2233) and (2130,2250) .. (2133,2272);
\draw[redD,line width=.5pt] (2227,2278) .. controls (2221,2245) and (2196,2233) .. (2176,2233) .. controls (2151,2233) and (2136,2250) .. (2133,2272);
\draw[redD,line width=.7pt] (2090,2278) -- (2133,2262) -- (2176,2278) -- cycle;
% red doors
\drr{484,1331}{433,1331}{484,1384}
\drr{484,1438}{433,1438}{484,1384}
\drr{484,1446}{433,1446}{484,1498}
\drr{484,1553}{433,1553}{484,1498}
\drr{634,1331}{583,1331}{634,1384}
\drr{634,1438}{583,1438}{634,1384}
\drr{634,1446}{583,1446}{634,1498}
\drr{634,1553}{583,1553}{634,1498}
\fill[redD] (484,1317) rectangle (490,1570);
\fill[redD] (631,1317) rectangle (637,1570);
\draw[redD,line width=1pt] (484,1566) -- (637,1566);
\draw[redD,line width=.8pt] (560,1317) -- (560,1340);
% --- columns
\foreach \x in {763,1134,1508,1880}{\node[colm] (ca\x) at (\x,1278) {};}
\foreach \x in {306,762,1134,1508,1880,2253,2626,3000,3372,3745,4118}{\node[colm] (cb\x) at (\x,1586) {};}
\foreach \x in {761,1134,1508,1879,2252,2627,3000,3373,3744,4119,4492}{\node[colm] (cc\x) at (\x,2251) {};}
\node[colm] (cd1) at (4418,1282) {};\node[colm] (cd2) at (4655,1282) {};
\node[colm] (cd3) at (4492,1546) {};\node[colm] (cd4) at (4492,1586) {};
% --- stands
\stnd{952}{1384}{1188}{1502}
\draw[barc,line width=.8pt] (952,1447) -- (952,1384) -- (1188,1384) -- (1188,1447);
\stnd{2292}{1541}{2528}{1658}
\stnd{2663}{1541}{2899}{1658}
\draw[barc,line width=.8pt] (2663,1603) -- (2663,1541) -- (2899,1541) -- (2899,1603);
\stnd{3035}{1541}{3270}{1658}
\draw[barc,line width=.8pt] (3035,1603) -- (3035,1541) -- (3270,1541) -- (3270,1603);
\stnd{629}{1600}{744}{2073}
\fill[barc] (626,1600) rectangle (630,2073);
\foreach \y in {1600,1837,2073}{\draw[skyc!70!barc,line width=.8pt] (630,\y) -- (688,\y);}
\stnd{1545}{2116}{2013}{2234}
\stnd{1952}{1787}{2424}{2020}
\stnd{2809}{1787}{3281}{2020}
\draw[barc,line width=1.3pt] (1952,1904) -- (2424,1904);
\draw[barc,line width=1.3pt] (2809,1904) -- (3281,1904);
\foreach \x in {1952,2189,2424,2809,3045,3281}{\draw[barc,line width=.5pt] (\x,1843) -- (\x,1964);}
\stnd{3112}{2153}{3350}{2268}
\draw[barc,line width=.8pt] (3112,2209) -- (3112,2269) -- (3350,2269) -- (3350,2209);
\fill[black!33] (680,2128) -- (722,2100) -- (786,2167) -- (747,2205) -- cycle;
\fill[black!33] (758,2211) -- (799,2181) -- (864,2258) -- (831,2291) -- cycle;
\numb{n103}{1069}{1446}{103}
\numb{n102}{2410}{1602}{102}
\numb{n101}{2780}{1602}{101}
\numb{n100}{3144}{1602}{100}
\numb{n104}{686}{1713}{104}
\numb{n105}{686}{1955}{105}
\numb{n106}{1777}{2176}{106}
\numb{n109}{2069}{1846}{109}
\numb{n110}{2299}{1846}{110}
\numb{n107}{2069}{1961}{107}
\numb{n108}{2299}{1961}{108}
\numb{n113}{2926}{1846}{113}
\numb{n114}{3155}{1846}{114}
\numb{n111}{2926}{1961}{111}
\numb{n112}{3155}{1961}{112}
\numb{n115}{3222}{2212}{115}
% --- blue dots
\foreach \x/\y in {1009/1734,1266/1759,1809/1806,883/1898,1133/1901,1405/1902,1709/1961,1266/2028,1028/2057,2510/1838,2696/1952,3373/1838,3594/1838,3484/1971}{\node[skyd,minimum size=.39cm] (b\x\y) at (\x,\y) {};}
\foreach \x/\y/\d in {2282/2178/.28,2314/2207/.39,2355/2204/.27,2298/2248/.27,2561/2166/.28,2593/2196/.39,2634/2193/.27,2577/2236/.27}{\node[skyd,minimum size=\d cm] (k\x\y) at (\x,\y) {};}
\foreach \x/\y in {2755/2259,2687/2285,2821/2285,2929/2266,2631/2324,2929/2338,2828/2365,2734/2380,2915/2395,2662/2418,2776/2433,2617/2477,2836/2477,2923/2462,2741/2492,2923/2539,2605/2569,2655/2569,2704/2569,2755/2569,2806/2569,2858/2569}{\draw[skys] ({\x-15},{\y-15}) rectangle ({\x+15},{\y+15});}
% --- TV zone
\fill[barc] (4284,1736) rectangle (4300,1972);
\draw[inkc,line width=.3pt] (4284,1736) rectangle (4300,1972);
\draw[inkc,line width=.4pt] (4284,1854) -- (4300,1854);
\draw[inkc,fill=red!70!black,line width=.2pt] (4300,1805) rectangle (4305,1903);
\foreach \y in {1748,1960}{\node[skyd,minimum size=.25cm] (s\y) at (4242,\y) {};\draw[tl] (4227,\y) -- (4257,\y);}
\foreach \y in {1809,1902}{\node[skyd,minimum size=.27cm] (t\y) at (4355,\y) {};}
\draw[skys] (4383,1779) rectangle (4419,1839);
\draw[skys] (4383,1872) rectangle (4419,1931);
\node[inner sep=0pt,anchor=base,text=inkc,font=\fontsize{14.2}{14.2}\selectfont] (tv) at (4343,1872) {TV};
\node[inner sep=0pt,anchor=base,text=inkc,font=\fontsize{14.2}{14.2}\selectfont] (prio) at (4447,2038) {Prio 1};
% --- room names
\node[bolds,font=\heavyfont\bfseries\fontsize{28}{28}\selectfont] (gard) at (2805,1440) {\scalebox{.948}[1]{Garderobe}};
\node[bolds,font=\heavyfont\bfseries\fontsize{27.7}{28}\selectfont] (gart) at (3085,3088) {\scalebox{.965}[1]{Gartensaal 2}};
\node[bolds,font=\heavyfont\bfseries\fontsize{18.2}{18}\selectfont] (auto) at (1117,2733) {\scalebox{.98}[1]{Autolift C}};
% --- title
\node[inner sep=0pt,anchor=base west,text=barc,font=\lightfont\fontsize{40.5}{42}\selectfont] (title) at (241,299) {\scalebox{1.032}[1]{Bibliosuisse 2023}};
\node[inner sep=0pt,anchor=base west,text=inkc,font=\lightfont\fontsize{28.5}{29}\selectfont] (sub) at (238,423) {2./3.11.23 Kongresshaus Zürich};
\node[inner sep=0pt,anchor=base west,text=inkc,font=\lightfont\fontsize{13.5}{14}\selectfont] (ver) at (1677,423) {v.1.4};
% --- logo
\begin{scope}
\clip (4200,140) rectangle (4740,253);
\node[inner sep=0pt,anchor=base west,text=barc,font=\logoa\itshape\fontsize{40}{40}\selectfont] (stauffis) at (4246,268) {\smash{\scalebox{1.09}[1]{Stauffis}}};
\end{scope}
\node[inner sep=0pt,anchor=base west,text=logog,font=\logob\bfseries\fontsize{17}{17}\selectfont] (messe) at (4256,324) {MESSEBAU};
% --- scale
\node[inner sep=0pt,anchor=base west,text=wallc,font=\fontsize{24.2}{24}\selectfont] (s0) at (2892,3364) {0m};
\node[inner sep=0pt,anchor=base west,text=wallc,font=\fontsize{24.2}{24}\selectfont] (s5) at (3187,3364) {5m};
\node[inner sep=0pt,anchor=base west,text=wallc,font=\fontsize{24.2}{24}\selectfont] (s10) at (3450,3364) {10m};
\node[inner sep=0pt,anchor=base west,text=wallc,font=\fontsize{24.2}{24}\selectfont] (s20) at (4040,3364) {20m};
\draw[wallc,line width=.5pt,fill=white] (2927,3398) rectangle (4109,3448);
\wl{2927}{3398}{3222}{3423}\wl{3222}{3423}{3517}{3448}\wl{3517}{3398}{4109}{3423}
% --- compass
\draw[inkc,line width=.5pt] (4415,3372) circle[radius=1.445cm];
\fill[inkc] (4473,3266) -- (4383,3348) -- (4456,3387) -- cycle;
\draw[inkc,line width=.9pt,fill=white,line join=miter] (4379,3359) -- (4448,3397) -- (4360,3478) -- cycle;
\draw[inkc,line width=.3pt] (4485,3245) -- (4473,3266);
\draw[inkc,line width=.3pt] (4357,3480) -- (4349,3500);
\draw[inkc,line width=.3pt] (4288,3303) -- (4305,3313);
\draw[inkc,line width=.3pt] (4527,3433) -- (4545,3442);
\node[inner sep=0pt,anchor=base,text=wallc,font=\bfseries\fontsize{18.5}{18}\selectfont] (north) at (4505,3226) {N};
\end{tikzpicture}
\end{document}
